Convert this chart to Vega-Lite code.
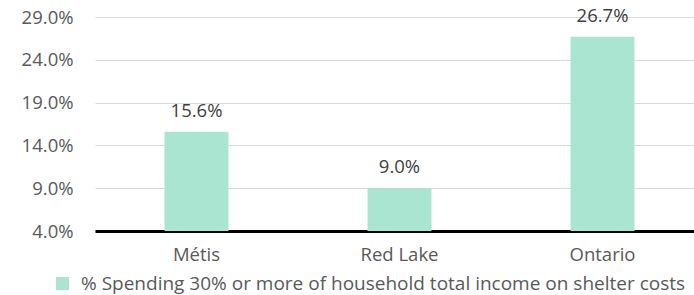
{
  "$schema": "https://vega.github.io/schema/vega-lite/v6.json",
  "autosize": "none",
  "width": 609,
  "height": 214,
  "padding": {"left": 95, "top": 17, "right": 0, "bottom": 64},
  "background": "white",
  "config": {
    "view": {"stroke": null},
    "font": "Open Sans"
  },
  "data": {
    "values": [
      {"region": "Métis", "value": 0.156, "series": "% Spending 30% or more of household total income on shelter costs"},
      {"region": "Red Lake", "value": 0.090, "series": "% Spending 30% or more of household total income on shelter costs"},
      {"region": "Ontario", "value": 0.267, "series": "% Spending 30% or more of household total income on shelter costs"}
    ]
  },
  "encoding": {
    "x": {
      "field": "region", "type": "nominal", "sort": null,
      "scale": {"paddingInner": 0.685, "paddingOuter": 0.3425},
      "axis": {"title": null, "labelAngle": 0, "labelFontSize": 18.5, "labelColor": "#595959", "ticks": false, "domainColor": "#000000", "domainWidth": 3, "labelPadding": 14, "grid": false}
    },
    "y": {
      "field": "value", "type": "quantitative",
      "scale": {"domain": [0.04, 0.29], "zero": false, "nice": false},
      "axis": {"title": null, "values": [0.04, 0.09, 0.14, 0.19, 0.24, 0.29], "format": ".1%", "labelFontSize": 18.5, "labelColor": "#595959", "ticks": false, "domain": false, "gridColor": "#D9D9D9", "gridWidth": 1, "labelPadding": 22}
    }
  },
  "layer": [
    {
      "mark": {"type": "bar", "color": "#A9E5D1"},
      "encoding": {
        "y2": {"datum": 0.04},
        "color": {
          "field": "series", "type": "nominal",
          "scale": {"range": ["#A9E5D1"]},
          "legend": {"title": null, "orient": "none", "legendX": -42, "legendY": 257, "symbolType": "square", "symbolSize": 169, "labelFontSize": 19, "labelColor": "#595959", "symbolStrokeWidth": 0, "labelOffset": 9, "labelLimit": 800, "padding": 0}
        }
      }
    },
    {
      "mark": {"type": "text", "dy": -15, "baseline": "alphabetic", "fontSize": 18.5, "color": "#404040"},
      "encoding": {
        "text": {"field": "value", "type": "quantitative", "format": ".1%"}
      }
    }
  ]
}
